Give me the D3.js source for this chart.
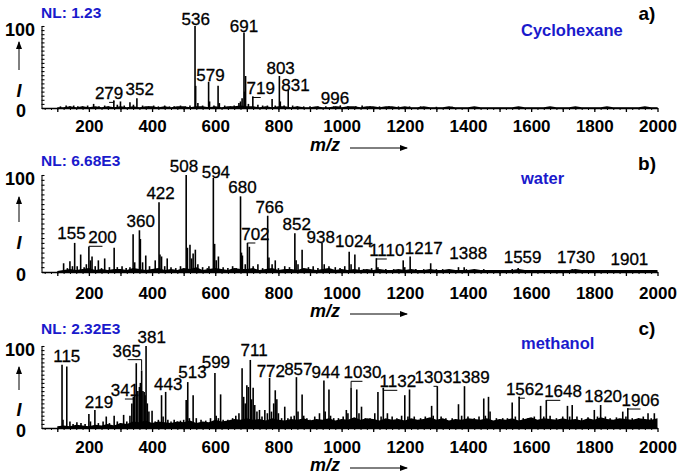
<!DOCTYPE html>
<html>
<head>
<meta charset="utf-8">
<script src="https://cdn.jsdelivr.net/npm/d3@7"></script>
<style>
  body { margin: 0; background: #fff; }
  svg { display: block; }
  text { font-family: "Liberation Sans", Arial, sans-serif; }
</style>
</head>
<body>
<script>
// Data: peaks as [m/z, relative intensity %]
const peaksA = [[110,2],[128,3],[140,2],[152,3],[165,2],[180,2],[196,3],[215,5],[232,2],[250,3],[262,2],[279,9],[290,4],[300,8],[312,3],[330,7],[341,4],[352,12],[370,3],[389,2],[405,3],[420,2],[440,3],[455,2],[470,2],[490,3],[505,2],[520,3],[536,100],[538,27],[545,6],[560,3],[579,32],[582,8],[596,3],[609,27],[613,6],[630,3],[648,2],[660,3],[675,6],[680,8],[685,12],[691,92],[693,20],[696,39],[705,5],[719,14],[735,4],[750,3],[765,3],[780,11],[790,3],[803,39],[806,8],[818,3],[831,22],[845,3],[860,2],[880,2],[900,2],[925,2],[950,2],[975,2],[996,3],[1020,2],[1045,2],[1065,3],[1090,2],[1120,2],[1150,2],[1180,2],[1215,2],[1250,2],[1300,1.5],[1350,1.5]];

const peaksB = [[120,9],[132,4],[140,11],[148,6],[155,30],[163,6],[174,18],[185,5],[192,8],[200,26],[205,12],[210,16],[220,6],[230,12],[240,4],[250,14],[265,5],[280,25],[290,5],[305,6],[318,4],[330,5],[340,39],[345,10],[360,43],[363,34],[370,10],[380,17],[392,6],[410,12],[422,72],[425,18],[430,16],[440,6],[448,14],[460,5],[475,4],[490,6],[508,100],[512,25],[520,28],[525,14],[530,19],[537,23],[545,8],[560,5],[575,4],[580,6],[594,97],[598,29],[603,12],[610,16],[625,5],[640,4],[655,6],[666,4],[680,78],[683,20],[686,17],[695,8],[702,30],[708,26],[720,6],[735,8],[750,4],[766,58],[770,15],[780,8],[790,12],[800,4],[820,6],[835,5],[852,40],[856,12],[862,8],[875,23],[895,5],[910,6],[925,4],[938,30],[945,8],[960,6],[980,5],[995,4],[1010,6],[1024,21],[1030,8],[1042,18],[1055,5],[1070,3],[1095,4],[1110,14],[1115,5],[1140,3],[1165,3],[1195,12],[1200,5],[1217,16],[1235,3],[1260,3],[1282,9],[1300,3],[1320,3],[1345,2],[1370,5],[1388,5],[1395,3],[1420,2],[1450,3],[1480,2],[1510,2],[1540,3],[1559,4],[1580,2],[1610,2],[1645,2],[1680,2],[1710,2],[1730,3],[1760,2],[1800,2],[1840,2],[1870,2],[1901,2],[1940,2],[1970,2]];

const peaksC = [[115,77],[118,10],[130,75],[140,8],[150,5],[162,7],[175,6],[188,5],[200,17],[205,8],[219,22],[230,6],[245,8],[255,14],[265,6],[280,15],[290,8],[300,6],[310,16],[320,8],[330,15],[336,30],[341,38],[345,40],[350,79],[355,45],[360,50],[363,55],[367,70],[371,45],[375,44],[378,40],[381,100],[385,30],[390,20],[400,21],[410,8],[420,10],[430,40],[435,14],[443,44],[450,10],[460,8],[470,10],[480,8],[490,9],[500,10],[508,34],[513,56],[518,12],[530,40],[540,12],[555,10],[570,9],[585,12],[599,67],[603,15],[610,12],[617,41],[625,10],[640,10],[655,12],[665,15],[675,18],[685,73],[690,38],[695,30],[700,52],[705,50],[711,83],[715,35],[720,49],[725,28],[732,20],[740,22],[748,14],[757,22],[765,18],[772,61],[778,20],[785,30],[790,46],[795,35],[800,18],[810,12],[820,26],[830,12],[840,14],[850,15],[857,62],[862,20],[875,41],[880,15],[890,12],[900,10],[915,14],[930,18],[944,58],[948,20],[960,47],[965,15],[975,12],[990,12],[1005,14],[1015,22],[1020,18],[1030,49],[1048,47],[1055,18],[1063,26],[1075,12],[1090,12],[1105,18],[1115,44],[1125,14],[1132,49],[1145,18],[1160,14],[1175,12],[1190,15],[1200,40],[1210,14],[1215,47],[1230,14],[1250,12],[1265,14],[1285,27],[1290,15],[1303,51],[1315,14],[1330,12],[1350,12],[1370,29],[1380,15],[1389,51],[1400,14],[1420,12],[1435,14],[1450,36],[1455,15],[1465,38],[1470,20],[1490,12],[1510,12],[1525,12],[1540,31],[1550,14],[1562,38],[1575,12],[1590,12],[1610,14],[1630,27],[1640,14],[1648,34],[1660,15],[1680,12],[1700,14],[1715,27],[1722,14],[1730,28],[1745,14],[1760,12],[1780,13],[1800,22],[1810,14],[1820,28],[1835,14],[1850,12],[1870,13],[1890,20],[1900,14],[1906,24],[1920,12],[1940,12],[1955,14],[1970,18],[1980,12],[1990,18]];

// Baseline noise level (%), sampled every 20 m/z from 100 to 2000
const noiseA = [1,1,2,1,2,1,2,1,2,1, 2,1,2,1,2,2,1,2,1,2, 2,1,2,2,1,2,1,2,2,3, 2,2,1,2,1,2,2,1,2,1, 1,2,1,1,2,1,2,2,1,2, 2,1,2,2,1,2,1,1,2,1, 1,1,2,1,1,1,2,1,1,1, 1,1,1,2,1,1,1,1,2,1, 1,1,2,1,1,1,1,2,1,1, 1,1,1,2,1,1];
const noiseB = [1,2,3,2,3,4,2,3,2,3, 3,2,4,3,2,3,4,2,3,2, 4,3,5,2,3,4,3,2,4,3, 3,4,2,3,4,2,3,3,2,4, 3,2,3,4,2,3,2,3,2,3, 2,3,2,2,3,2,3,2,2,3, 2,2,3,2,2,2,3,2,2,2, 2,2,2,3,2,2,2,2,2,2, 2,2,3,2,2,2,2,2,2,2, 2,2,2,2,2,2];
const noiseC = [2,3,2,4,3,2,4,3,5,3, 6,5,8,7,9,6,8,7,6,8, 7,9,6,8,7,10,8,9,11,10, 12,10,11,9,12,10,9,11,10,12, 9,11,10,12,9,11,10,13,10,12, 11,9,12,10,11,9,12,10,11,13, 10,12,9,11,10,12,11,10,12,9, 11,10,12,9,11,13,10,12,11,10, 12,10,11,9,12,10,13,11,10,12, 11,10,12,11,10,12];

// Peak annotations: text, label anchor (m/z, %), leader target peak
const labelsA = [
  {t:'279', x:264, y:10.5, p:279}, {t:'352', x:361, y:15.7}, {t:'536', x:538, y:101},
  {t:'579', x:585, y:32.5}, {t:'691', x:691, y:93}, {t:'719', x:744, y:16.5, p:719},
  {t:'803', x:807, y:41}, {t:'831', x:854, y:21}, {t:'996', x:979, y:4.8, p:996}
];
const labelsB = [
  {t:'155', x:145, y:33.7}, {t:'200', x:243, y:29.6, p:200}, {t:'360', x:364, y:46.7},
  {t:'422', x:427, y:75}, {t:'508', x:501, y:103}, {t:'594', x:602, y:96.6},
  {t:'680', x:686, y:81.8}, {t:'702', x:727, y:33, p:702}, {t:'766', x:772, y:61},
  {t:'852', x:858, y:43}, {t:'938', x:934, y:29.6}, {t:'1024', x:1039, y:26},
  {t:'1110', x:1143, y:16.5, p:1110}, {t:'1217', x:1260, y:19}, {t:'1388', x:1401, y:13},
  {t:'1559', x:1573, y:9}, {t:'1730', x:1742, y:9}, {t:'1901', x:1911, y:7}
];
const labelsC = [
  {t:'115', x:130, y:81}, {t:'219', x:232, y:24}, {t:'341', x:314, y:39, p:341},
  {t:'365', x:320, y:87, p:367}, {t:'381', x:399, y:104}, {t:'443', x:451, y:46},
  {t:'513', x:528, y:60.6}, {t:'599', x:602, y:73}, {t:'711', x:723, y:88},
  {t:'772', x:776, y:62.6}, {t:'857', x:863, y:64.6}, {t:'944', x:950, y:60.6},
  {t:'1030', x:1066, y:60.6, p:1030}, {t:'1132', x:1178, y:49.6, p:1132},
  {t:'1303', x:1291, y:54.5, p:1303}, {t:'1389', x:1409, y:54.5},
  {t:'1562', x:1580, y:40, p:1562}, {t:'1648', x:1701, y:37.4, p:1648},
  {t:'1820', x:1828, y:32}, {t:'1906', x:1946, y:26.8, p:1906}
];

const xTicks = [200, 400, 600, 800, 1000, 1200, 1400, 1600, 1800, 2000];

// Panel layout
const panels = [
  {peaks: peaksA, noise: noiseA, labels: labelsA, nl: 'NL: 1.23', solvent: 'Cyclohexane', tag: 'a)',
   top: 26, bottom: 108, nlY: 13, solY: 30, tagY: 13, arrow: [70, 42], iY: 90.5, tickY: 126, mzY: 145},
  {peaks: peaksB, noise: noiseB, labels: labelsB, nl: 'NL: 6.68E3', solvent: 'water', tag: 'b)',
   top: 175, bottom: 272, nlY: 161, solY: 178, tagY: 163, arrow: [222, 197], iY: 242.5, tickY: 293, mzY: 311},
  {peaks: peaksC, noise: noiseC, labels: labelsC, nl: 'NL: 2.32E3', solvent: 'methanol', tag: 'c)',
   top: 346, bottom: 428, nlY: 329, solY: 343, tagY: 328, arrow: [390, 367], iY: 410, tickY: 447, mzY: 465}
];

const blue = '#1a1acc';
const svg = d3.select('body').append('svg').attr('width', 685).attr('height', 476);

// Arrow head
svg.append('defs').append('marker')
  .attr('id', 'head')
  .attr('viewBox', '0 0 8 6')
  .attr('refX', 7).attr('refY', 3)
  .attr('markerWidth', 8).attr('markerHeight', 6)
  .attr('markerUnits', 'userSpaceOnUse')
  .attr('orient', 'auto')
  .append('path').attr('d', 'M0,0L8,3L0,6Z').attr('fill', '#000');

const x = d3.scaleLinear().domain([50, 2000]).range([41.5, 657.5]);

panels.forEach(p => {
  const y = d3.scaleLinear().domain([0, 100]).range([p.bottom, p.top]);
  const g = svg.append('g');

  // Noise floor
  const area = d3.area().x(d => x(d[0])).y0(y(0)).y1(d => y(d[1]));
  g.append('path')
    .datum(p.noise.map((v, i) => [100 + i * 20, v]))
    .attr('d', area)
    .attr('fill', '#000');

  // Peaks
  g.append('g').selectAll('line')
    .data(p.peaks)
    .join('line')
    .attr('x1', d => x(d[0])).attr('x2', d => x(d[0]))
    .attr('y1', y(0)).attr('y2', d => y(d[1]))
    .attr('stroke', '#000').attr('stroke-width', 1.6);

  // X axis: minor + major ticks
  g.append('g')
    .attr('transform', `translate(0,${p.bottom})`)
    .call(d3.axisBottom(x).tickValues(d3.range(60, 2000, 20)).tickSize(2).tickSizeOuter(0).tickFormat(''))
    .call(a => a.select('.domain').remove());
  const xa = g.append('g')
    .attr('transform', `translate(0,${p.bottom})`)
    .call(d3.axisBottom(x).tickValues(d3.range(100, 2001, 100)).tickSize(4).tickSizeOuter(0)
      .tickFormat(d => xTicks.includes(d) ? d : ''));
  xa.selectAll('path, line').attr('stroke', '#000').attr('stroke-width', 1.3);
  xa.selectAll('text')
    .attr('y', p.tickY - p.bottom).attr('dy', '0.35em')
    .attr('font-size', 17).attr('font-weight', 'bold').attr('fill', '#000')
    .attr('font-family', '"Liberation Sans", Arial, sans-serif');

  // Y axis
  const ya = g.append('g')
    .attr('transform', `translate(${x.range()[0]},0)`)
    .call(d3.axisRight(y).tickValues(d3.range(0, 101, 5)).tickSize(3).tickSizeOuter(0).tickFormat(''));
  ya.selectAll('path, line').attr('stroke', '#000').attr('stroke-width', 1.1);

  g.append('text').attr('x', 20).attr('y', y(100) + 4).attr('dy', '0.35em')
    .attr('text-anchor', 'middle').attr('font-size', 18).attr('font-weight', 'bold').text('100');
  g.append('text').attr('x', 21).attr('y', y(0) + 3).attr('dy', '0.35em')
    .attr('text-anchor', 'middle').attr('font-size', 18).attr('font-weight', 'bold').text('0');
  g.append('line')
    .attr('x1', 19).attr('x2', 19).attr('y1', p.arrow[0]).attr('y2', p.arrow[1])
    .attr('stroke', '#000').attr('stroke-width', 1).attr('marker-end', 'url(#head)');
  g.append('text').attr('x', 19).attr('y', p.iY).attr('dy', '0.35em')
    .attr('text-anchor', 'middle').attr('font-size', 18).attr('font-weight', 'bold')
    .attr('font-style', 'italic').text('I');

  // m/z label with arrow
  g.append('text').attr('x', 325).attr('y', p.mzY).attr('dy', '0.35em')
    .attr('text-anchor', 'middle').attr('font-size', 18).attr('font-weight', 'bold')
    .attr('font-style', 'italic').text('m/z');
  g.append('line')
    .attr('x1', 350).attr('x2', 407).attr('y1', p.mzY + 3).attr('y2', p.mzY + 3)
    .attr('stroke', '#000').attr('stroke-width', 1).attr('marker-end', 'url(#head)');

  // Peak labels and leaders
  const top = m => {
    const pk = p.peaks.find(d => d[0] === m);
    return pk ? y(pk[1]) : y(0);
  };
  p.labels.forEach(l => {
    const lx = x(l.x), ly = y(l.y);
    g.append('text').attr('x', lx).attr('y', ly)
      .attr('text-anchor', 'middle').attr('font-size', 17).attr('fill', '#000')
      .attr('stroke', '#000').attr('stroke-width', 0.3).text(l.t);
    if (l.p !== undefined) {
      const px = x(l.p);
      const dx = px - lx;
      const sx = px - Math.sign(dx) * Math.min(Math.abs(dx), 14);
      g.append('path')
        .attr('d', d3.line()([[sx, ly + 3], [px, ly + 3], [px, top(l.p)]]))
        .attr('fill', 'none').attr('stroke', '#000').attr('stroke-width', 1);
    }
  });

  // Titles
  g.append('text').attr('x', 41).attr('y', p.nlY).attr('dy', '0.35em')
    .attr('font-family', 'Lato, "Open Sans", sans-serif')
    .attr('font-size', 15.5).attr('font-weight', 'bold').attr('fill', blue).text(p.nl);
  g.append('text').attr('x', 521).attr('y', p.solY).attr('dy', '0.35em')
    .attr('font-family', 'Lato, "Open Sans", sans-serif')
    .attr('font-size', 16.5).attr('font-weight', 'bold').attr('fill', blue).text(p.solvent);
  g.append('text').attr('x', 647).attr('y', p.tagY).attr('dy', '0.35em')
    .attr('text-anchor', 'middle').attr('font-size', 19).attr('font-weight', 'bold').text(p.tag);
});
</script>
</body>
</html>
